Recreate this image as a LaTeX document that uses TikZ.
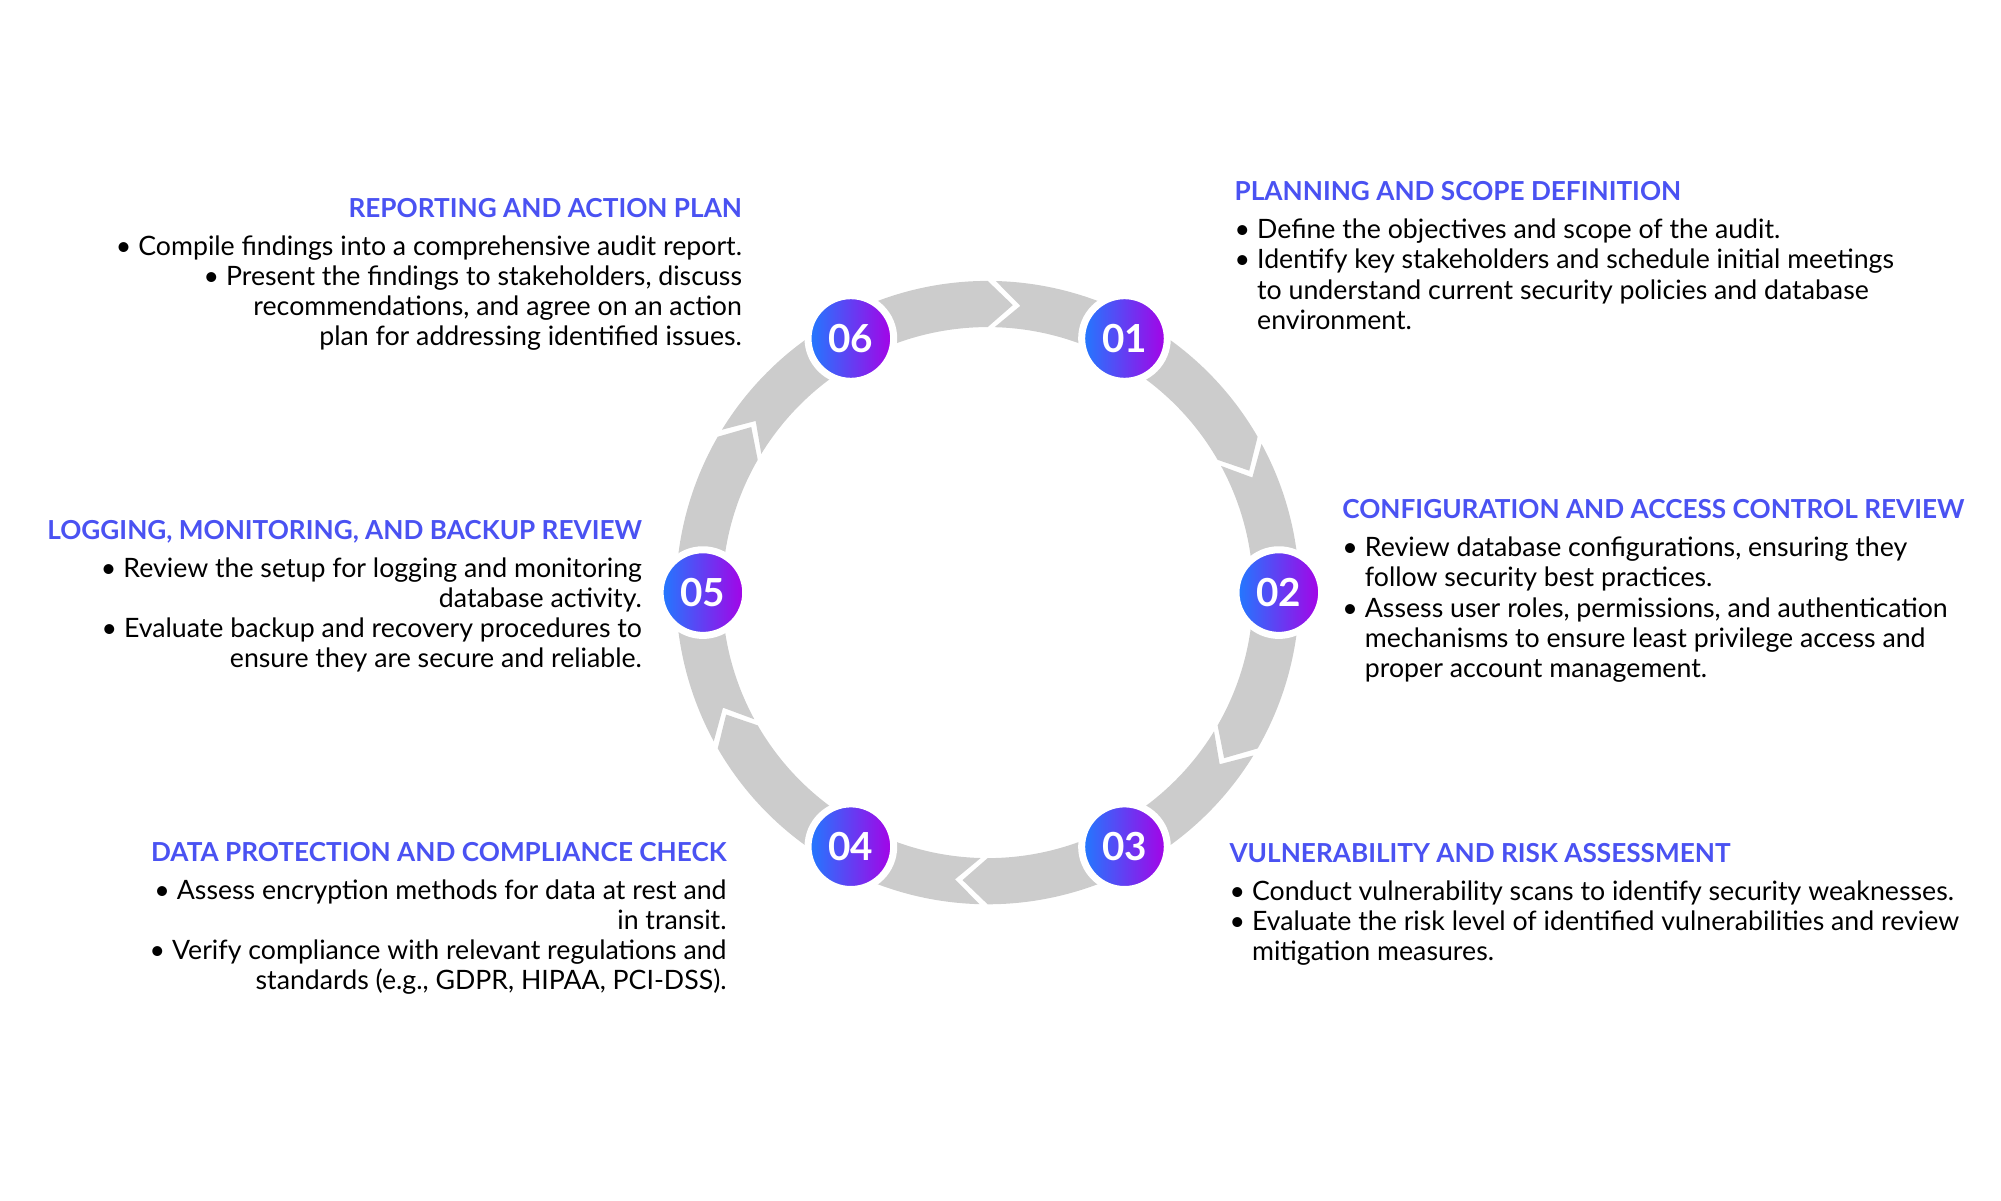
\documentclass[tikz,border=0pt]{standalone}
\usepackage{fontspec}
\setmainfont{Lato}
\definecolor{stepblue}{HTML}{1F7BFF}
\definecolor{steppurple}{HTML}{A800E6}
\definecolor{titlecol}{HTML}{4A52F2}
\definecolor{ringgray}{HTML}{CCCCCC}
\newcommand{\ringpiece}[2]{%
  \fill[ringgray] (#1:243) arc[start angle=#1,end angle=#2,radius=243] -- ({#2-5}:225)
    -- (#2:207) arc[start angle=#2,end angle=#1,radius=207] -- ({#1-5}:225) -- cycle;}
\tikzset{
  stepnode/.style={circle,minimum size=0.77cm,left color=stepblue,right color=steppurple,
    draw=white,line width=2pt,text=white,font=\bfseries\fontsize{11}{11}\selectfont},
  lefttext/.style={anchor=north west,align=left,inner sep=0pt,font=\fontsize{7.6}{8.6}\selectfont},
  righttext/.style={anchor=north east,align=right,inner sep=0pt,font=\fontsize{7.6}{8.6}\selectfont}
}
\newcommand{\ttl}[1]{{\color{titlecol}\bfseries\fontsize{7.45}{8.6}\selectfont #1}\\[2.2pt]}
\newcommand{\bl}{\textbullet\hspace{2pt}}
\newcommand{\ind}{\hphantom{\textbullet\hspace{2pt}}}
\begin{document}
\begin{tikzpicture}[x=0.01283cm,y=0.01283cm]
\useasboundingbox (0,0) rectangle (1560,936);

% ring of arrows
\begin{scope}[shift={(770,474)}]
\foreach \a/\b in {118/90,88.5/62,62/30,28.5/0,0/-30,-31.5/-62,-62/-90,-91.5/-118,-118/-150,-151.5/-180,180/150,148.5/118}
  {\ringpiece{\a}{\b}}
\node[stepnode] (n1) at (61.7:225) {01};
\node[stepnode] (n2) at (0:227) {02};
\node[stepnode] (n3) at (-61.7:225) {03};
\node[stepnode] (n4) at (-118.3:225) {04};
\node[stepnode] (n5) at (180:222) {05};
\node[stepnode] (n6) at (118.3:225) {06};
\end{scope}

% step texts
\node[lefttext] (t1) at (962,795) {\ttl{PLANNING AND SCOPE DEFINITION}
  \bl Define the objectives and scope of the audit.\\
  \bl Identify key stakeholders and schedule initial meetings\\
  \ind to understand current security policies and database\\
  \ind environment.};
\node[lefttext] (t2) at (1046,547) {\ttl{CONFIGURATION AND ACCESS CONTROL REVIEW}
  \bl Review database configurations, ensuring they\\
  \ind follow security best practices.\\
  \bl Assess user roles, permissions, and authentication\\
  \ind mechanisms to ensure least privilege access and\\
  \ind proper account management.};
\node[lefttext] (t3) at (958,279) {\ttl{VULNERABILITY AND RISK ASSESSMENT}
  \bl Conduct vulnerability scans to identify security weaknesses.\\
  \bl Evaluate the risk level of identified vulnerabilities and review\\
  \ind mitigation measures.};
\node[righttext] (t4) at (567,280) {\ttl{DATA PROTECTION AND COMPLIANCE CHECK}
  \bl Assess encryption methods for data at rest and\\
  in transit.\\
  \bl Verify compliance with relevant regulations and\\
  standards (e.g., GDPR, HIPAA, PCI-DSS).};
\node[righttext] (t5) at (501,531) {\ttl{LOGGING, MONITORING, AND BACKUP REVIEW}
  \bl Review the setup for logging and monitoring\\
  database activity.\\
  \bl Evaluate backup and recovery procedures to\\
  ensure they are secure and reliable.};
\node[righttext] (t6) at (579,782) {\ttl{REPORTING AND ACTION PLAN}
  \bl Compile findings into a comprehensive audit report.\\
  \bl Present the findings to stakeholders, discuss\\
  recommendations, and agree on an action\\
  plan for addressing identified issues.};
\end{tikzpicture}
\end{document}
